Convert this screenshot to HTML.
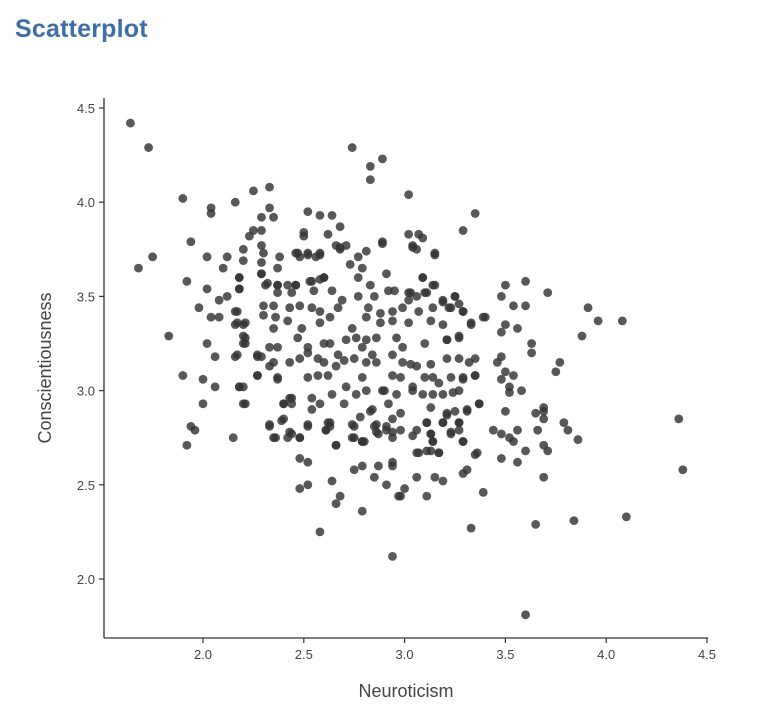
<!DOCTYPE html>
<html><head><meta charset="utf-8">
<style>
body{margin:0;background:#fff;width:757px;height:718px;overflow:hidden;font-family:"Liberation Sans",sans-serif;}
#title{position:absolute;left:15px;top:15px;font-size:25px;font-weight:bold;color:#3e6ea8;letter-spacing:0.2px;}
</style></head>
<body>
<div id="title">Scatterplot</div>
<svg id="chart" width="757" height="718" style="position:absolute;left:0;top:0"></svg>
<script>
const xTicks=[2.0,2.5,3.0,3.5,4.0,4.5];
const yTicks=[2.0,2.5,3.0,3.5,4.0,4.5];
const xTickLabels=["2.0","2.5","3.0","3.5","4.0","4.5"];
const yTickLabels=["2.0","2.5","3.0","3.5","4.0","4.5"];
const neuroticism=[1.64,1.73,2.74,2.89,2.83,2.83,1.90,2.04,2.04,2.16,2.25,2.33,2.33,2.29,2.35,2.25,2.29,2.23,2.52,2.58,2.64,2.50,2.50,2.62,2.68,2.66,2.71,2.68,2.89,1.94,1.75,1.68,1.92,2.02,2.12,2.10,2.02,2.08,2.12,2.18,2.18,1.98,2.04,2.08,2.16,2.16,2.20,2.20,2.20,1.83,2.02,2.06,2.16,2.27,2.29,2.46,2.48,2.52,2.56,2.58,2.29,2.31,2.37,2.42,2.46,2.53,2.58,2.60,
2.29,2.20,2.20,2.30,2.38,2.47,2.52,2.58,2.68,2.77,2.81,2.89,3.04,3.15,2.29,2.37,2.73,2.79,2.91,2.29,2.18,2.32,2.37,2.46,2.54,2.60,2.77,2.83,3.09,3.14,2.18,2.37,2.44,2.55,2.64,2.69,2.77,2.85,2.92,2.95,3.03,3.10,3.19,3.25,2.30,2.35,2.43,2.48,2.54,2.58,2.67,2.82,2.88,2.94,2.99,3.07,3.14,3.22,3.29,2.17,2.17,2.21,2.30,2.36,2.42,2.49,2.58,2.63,2.74,2.81,2.88,2.94,3.02,3.13,3.19,3.33,3.40,2.21,2.21,2.35,2.47,2.52,2.60,2.63,2.71,2.76,2.81,2.86,2.96,2.99,3.10,3.21,3.27,2.17,2.27,2.33,2.37,2.35,2.43,2.48,2.52,2.57,2.60,2.67,2.70,2.75,2.79,2.84,2.81,2.86,2.94,2.99,3.03,3.06,3.13,3.21,3.27,3.35,3.32,2.27,2.37,2.52,2.57,2.62,2.66,2.71,2.79,2.81,2.90,2.94,2.98,3.04,3.10,3.14,3.17,3.23,3.29,3.35,2.18,2.21,2.40,2.43,2.54,2.58,2.54,2.64,2.70,2.76,2.84,2.89,2.92,2.96,3.04,3.09,3.14,3.19,3.24,3.27,3.13,3.21,3.31,3.37,2.33,2.39,2.43,2.36,2.48,2.52,2.61,2.62,2.66,2.74,2.74,2.79,2.78,2.83,2.86,2.94,2.98,2.98,3.04,3.11,3.06,3.13,3.14,3.19,3.23,3.27,3.29,3.07,3.17,3.36,2.94,2.86,2.91,
1.90,2.00,2.00,2.06,2.18,2.20,2.20,1.94,1.96,1.92,2.15,2.27,2.33,2.37,2.40,2.44,2.44,2.40,2.33,2.35,2.42,2.44,2.48,2.52,2.48,2.52,2.48,2.52,2.58,2.64,2.68,2.66,2.79,2.94,2.75,2.79,2.87,2.85,2.91,2.94,2.94,2.66,2.79,2.80,2.75,2.61,2.63,2.63,2.75,2.85,2.87,2.91,2.94,2.97,
3.02,3.35,3.29,3.02,3.07,3.09,3.04,3.06,3.15,3.09,3.15,3.11,3.02,3.06,3.02,3.19,3.25,3.27,3.23,3.29,3.39,3.33,3.50,3.60,3.71,3.48,3.54,3.60,3.50,3.56,3.48,3.91,3.96,4.08,3.88,3.63,3.63,3.77,3.75,3.48,3.46,3.50,3.54,3.21,3.27,
3.48,3.52,3.52,3.58,3.35,3.29,3.37,3.31,3.25,3.21,3.50,3.65,3.69,3.69,3.69,3.79,3.81,3.86,3.66,3.69,3.71,3.44,3.48,3.52,3.54,3.56,3.60,3.56,3.48,3.69,3.35,3.29,3.31,3.29,3.39,3.33,3.19,3.15,3.06,3.11,2.98,3.00,3.65,3.84,4.10,4.36,4.38,3.60,3.11,3.19,3.23,3.27,3.27,3.06,3.11,3.13,3.17,3.14,3.13];
const conscientiousness=[4.42,4.29,4.29,4.23,4.19,4.12,4.02,3.97,3.94,4.00,4.06,4.08,3.97,3.92,3.92,3.85,3.85,3.82,3.95,3.93,3.93,3.84,3.82,3.83,3.87,3.77,3.77,3.75,3.79,3.79,3.71,3.65,3.58,3.71,3.71,3.65,3.54,3.48,3.50,3.60,3.54,3.44,3.39,3.39,3.42,3.35,3.35,3.29,3.25,3.29,3.25,3.18,3.18,3.18,3.18,3.73,3.71,3.73,3.71,3.73,3.62,3.56,3.56,3.56,3.56,3.58,3.59,3.60,
3.77,3.75,3.69,3.73,3.71,3.73,3.72,3.72,3.76,3.71,3.74,3.78,3.76,3.72,3.68,3.65,3.67,3.65,3.62,3.62,3.60,3.57,3.56,3.56,3.58,3.60,3.60,3.56,3.60,3.56,3.54,3.52,3.52,3.53,3.53,3.48,3.50,3.50,3.53,3.53,3.52,3.52,3.47,3.50,3.45,3.45,3.44,3.45,3.44,3.42,3.44,3.44,3.41,3.42,3.44,3.42,3.44,3.44,3.42,3.42,3.36,3.36,3.40,3.39,3.37,3.33,3.36,3.39,3.33,3.39,3.36,3.37,3.36,3.37,3.35,3.36,3.39,3.28,3.25,3.33,3.28,3.23,3.25,3.25,3.27,3.28,3.27,3.28,3.28,3.23,3.25,3.27,3.28,3.19,3.19,3.23,3.23,3.15,3.15,3.17,3.20,3.17,3.15,3.19,3.16,3.17,3.23,3.19,3.15,3.15,3.19,3.15,3.14,3.13,3.14,3.17,3.17,3.17,3.15,3.08,3.07,3.07,3.08,3.08,3.13,3.02,3.07,3.00,3.00,3.08,3.07,3.02,3.07,3.07,3.04,3.07,3.07,3.08,3.02,2.93,2.93,2.96,2.96,2.93,2.90,2.98,2.93,2.98,2.90,3.00,2.93,2.98,3.00,2.98,2.98,2.98,2.99,3.00,2.91,2.88,2.90,2.93,2.82,2.84,2.78,2.75,2.75,2.82,2.79,2.83,2.71,2.82,2.75,2.73,2.86,2.89,2.82,2.85,2.88,2.79,2.76,2.83,2.79,2.77,2.73,2.83,2.78,2.83,2.73,2.67,2.67,2.67,2.78,2.78,2.81,
3.08,3.06,2.93,3.02,3.02,3.02,2.93,2.81,2.79,2.71,2.75,3.08,3.13,3.06,2.93,2.96,2.93,2.85,2.81,2.75,2.75,2.77,2.75,2.81,2.64,2.62,2.48,2.50,2.25,2.52,2.44,2.40,2.36,2.12,2.58,2.60,2.60,2.54,2.50,2.62,2.60,2.71,2.73,2.73,2.75,2.79,2.81,2.83,2.81,2.81,2.77,2.79,2.75,2.44,
4.04,3.94,3.85,3.83,3.83,3.81,3.77,3.75,3.73,3.60,3.56,3.52,3.52,3.50,3.48,3.48,3.50,3.46,3.44,3.42,3.39,3.35,3.56,3.58,3.52,3.50,3.45,3.45,3.35,3.33,3.31,3.44,3.37,3.37,3.29,3.25,3.20,3.15,3.10,3.18,3.15,3.10,3.08,3.27,3.29,
3.06,3.02,2.99,3.00,3.08,3.06,2.93,2.89,2.89,2.87,2.89,2.88,2.91,2.89,2.85,2.83,2.79,2.74,2.79,2.71,2.68,2.79,2.77,2.75,2.73,2.79,2.68,2.62,2.64,2.54,2.66,2.73,2.58,2.56,2.46,2.27,2.52,2.54,2.54,2.44,2.44,2.48,2.29,2.31,2.33,2.85,2.58,1.81,2.83,2.83,2.77,2.83,2.79,2.67,2.68,2.68,2.67,2.73,2.77];

const NS='http://www.w3.org/2000/svg';
const svg=document.getElementById('chart');
const X0=104,X1=708,Y0=98,Y1=638;
function xs(v){return 203+(v-2)*201.6;}
function ys(v){return 579-(v-2)*188.4;}
function mk(tag,attrs,parent){const e=document.createElementNS(NS,tag);for(const k in attrs)e.setAttribute(k,attrs[k]);(parent||svg).appendChild(e);return e;}

const pts=mk('g',{});


const n=Math.min(neuroticism.length,conscientiousness.length);
for(let i=0;i<n;i++){
  const c=mk('circle',{cx:xs(neuroticism[i]),cy:ys(conscientiousness[i]),r:4.4,fill:'#333','fill-opacity':0.82},pts);
  
  
}
const yAxis=mk('line',{x1:X0,y1:Y0,x2:X0,y2:Y1,stroke:'#333','stroke-width':1.3});


const xAxis=mk('line',{x1:X0,y1:Y1,x2:X1,y2:Y1,stroke:'#333','stroke-width':1.3});


xTicks.forEach((v,i)=>{
  const x=xs(v);
  mk('line',{x1:x,y1:Y1,x2:x,y2:Y1+5,stroke:'#333','stroke-width':1.2});
  const t=mk('text',{x:x,y:Y1+21,'text-anchor':'middle','font-size':13,fill:'#444','font-family':'Liberation Sans, sans-serif'});
  t.textContent=xTickLabels[i];
  
  
});
yTicks.forEach((v,i)=>{
  const y=ys(v);
  mk('line',{x1:X0-5,y1:y,x2:X0,y2:y,stroke:'#333','stroke-width':1.2});
  const t=mk('text',{x:X0-9,y:y+5,'text-anchor':'end','font-size':13,fill:'#444','font-family':'Liberation Sans, sans-serif'});
  t.textContent=yTickLabels[i];
  
  
});
const xt=mk('text',{x:406,y:697,'text-anchor':'middle','font-size':18,fill:'#444','font-family':'Liberation Sans, sans-serif'});
xt.textContent='Neuroticism';


const yt=mk('text',{x:0,y:0,'text-anchor':'middle','font-size':18,fill:'#444','font-family':'Liberation Sans, sans-serif',transform:'translate(51,368) rotate(-90)'});
yt.textContent='Conscientiousness';


</script>
</body></html>
